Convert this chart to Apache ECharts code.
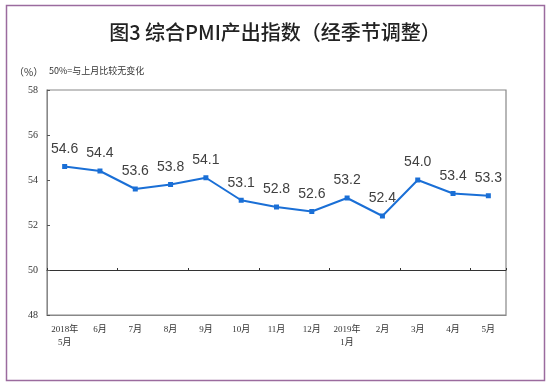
<!DOCTYPE html>
<html><head><meta charset="utf-8">
<script src="https://cdn.jsdelivr.net/npm/echarts@6/dist/echarts.min.js"></script>
<style>html,body{margin:0;padding:0;background:#fff}#c{width:550px;height:386px}</style>
</head><body><div id="c"></div>
<script>
const categories = ['2018年\n5月','6月','7月','8月','9月','10月','11月','12月','2019年\n1月','2月','3月','4月','5月'];
const values = [54.6,54.4,53.6,53.8,54.1,53.1,52.8,52.6,53.2,52.4,54.0,53.4,53.3];
const yTicks = [48,50,52,54,56,58];
const titleText = '图3 综合PMI产出指数（经季节调整）';
const unitText = '（%）';
const noteText = '50%=与上月比较无变化';

const chart = echarts.init(document.getElementById('c'), null, {renderer:'canvas'});
const serif = '"Liberation Serif","DejaVu Serif","Noto Sans CJK SC",serif';
chart.setOption({
  animation:false,
  backgroundColor:'#fff',
  graphic:[
    {type:'rect', shape:{x:6.5,y:5.5,width:538,height:375}, style:{fill:'none',stroke:'#9b6b9e',lineWidth:1.5}, z:-1},
    {type:'text', left:'center', top:22, style:{text:titleText, font:'500 20px "Noto Sans CJK SC"', fill:'#222'}},
    {type:'text', left:14, top:67, style:{text:unitText, font:'10px "Noto Sans CJK SC"', fill:'#333'}},
    {type:'text', left:49, top:66, style:{text:noteText, font:'9px "Noto Sans CJK SC"', fill:'#333'}}
  ],
  grid:{left:47, right:44, top:90, bottom:71, show:true, borderColor:'#888', borderWidth:1.2, backgroundColor:'#fff'},
  xAxis:[{
    type:'category', data:categories, boundaryGap:true,
    axisLine:{show:true, lineStyle:{color:'#888'}},
    axisTick:{show:false},
    axisLabel:{interval:0, fontSize:9, fontFamily:serif, color:'#333', margin:8, lineHeight:13}
  },{
    type:'category', data:categories, boundaryGap:true, position:'bottom', offset:-45,
    axisLine:{show:true, lineStyle:{color:'#333', width:1}},
    axisTick:{show:true, inside:true, length:2, lineStyle:{color:'#333'}},
    axisLabel:{show:false}
  }],
  yAxis:{
    type:'value', min:48, max:58, interval:2,
    axisLine:{show:true, lineStyle:{color:'#888'}},
    axisTick:{show:true, inside:true, length:3, lineStyle:{color:'#555'}},
    splitLine:{show:false},
    axisLabel:{fontSize:10, fontFamily:serif, color:'#333', margin:9,
      formatter:v => yTicks.includes(v) ? String(v) : ''}
  },
  series:[{
    type:'line', data:values, xAxisIndex:0,
    lineStyle:{color:'#1a6fd6', width:2},
    itemStyle:{color:'#1a6fd6'},
    symbol:'rect', symbolSize:5, showAllSymbol:true,
    label:{show:true, position:'top', distance:8, fontSize:14, fontFamily:'"Liberation Sans",Arial,sans-serif', color:'#404040',
      formatter:p => p.value.toFixed(1)}
  }]
});
</script></body></html>
